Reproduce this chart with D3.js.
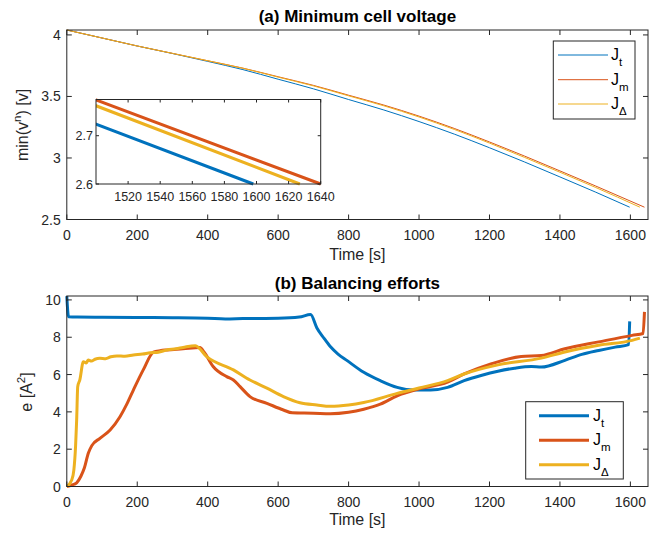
<!DOCTYPE html>
<html>
<head>
<meta charset="utf-8">
<script src="https://cdn.jsdelivr.net/npm/d3@7"></script>
<style>
  html, body { margin: 0; padding: 0; background: #fff; }
  svg { display: block; font-family: "Liberation Sans", Arial, Helvetica, sans-serif; }
</style>
</head>
<body>
<svg id="chart" width="662" height="540"></svg>
<script>
// ---- Data ---------------------------------------------------------------
// (a) minimum cell voltage [V] versus time [s], one array pair per controller
const vTimeT  = [0, 100, 200, 300, 400, 500, 600, 700, 800, 900, 1000, 1100, 1200, 1300, 1400, 1500, 1598];
const vJt     = [4.04, 3.975, 3.91, 3.849, 3.785, 3.718, 3.64, 3.562, 3.475, 3.39, 3.296, 3.194, 3.083, 2.967, 2.846, 2.724, 2.60];
const vTimeM  = [0, 100, 200, 300, 400, 500, 600, 700, 800, 900, 1000, 1100, 1200, 1300, 1400, 1500, 1640];
const vJm     = [4.04, 3.975, 3.91, 3.85, 3.79, 3.73, 3.66, 3.59, 3.51, 3.43, 3.34, 3.24, 3.13, 3.015, 2.895, 2.774, 2.60];
const vTimeD  = [0, 100, 200, 300, 400, 500, 600, 700, 800, 900, 1000, 1100, 1200, 1300, 1400, 1500, 1627];
const vJd     = [4.04, 3.975, 3.91, 3.85, 3.79, 3.729, 3.657, 3.586, 3.505, 3.424, 3.333, 3.232, 3.121, 3.004, 2.884, 2.762, 2.60];

// (b) balancing effort e [A^2] versus time [s]
const eTimeT = [0, 5, 30, 100, 200, 300, 400, 450, 500, 600, 660, 692, 710, 730, 748, 770, 795, 843, 890, 938, 985, 1033, 1081, 1128, 1176, 1224, 1271, 1319, 1347, 1414, 1462, 1510, 1557, 1595, 1598];
const eJt    = [10.2, 9.1, 9.08, 9.07, 9.06, 9.05, 9.02, 8.98, 9.0, 9.02, 9.08, 9.22, 8.5, 7.95, 7.5, 7.1, 6.76, 6.12, 5.67, 5.31, 5.17, 5.17, 5.31, 5.67, 5.95, 6.18, 6.34, 6.43, 6.40, 6.76, 7.08, 7.29, 7.47, 7.6, 8.85];
const eTimeM = [0, 14, 28, 40, 50, 61, 71, 94, 123, 151, 170, 189, 217, 246, 265, 284, 330, 378, 390, 416, 454, 473, 492, 520, 568, 615, 640, 700, 748, 800, 843, 890, 938, 1000, 1081, 1128, 1204, 1290, 1347, 1414, 1510, 1605, 1636, 1640];
const eJm    = [0, 0.08, 0.2, 0.55, 1.0, 1.78, 2.19, 2.58, 3.03, 3.74, 4.4, 5.17, 6.25, 7.2, 7.28, 7.32, 7.38, 7.45, 7.2, 6.42, 5.89, 5.71, 5.35, 4.82, 4.46, 4.10, 3.95, 3.93, 3.9, 3.98, 4.14, 4.41, 4.86, 5.23, 5.59, 6.03, 6.57, 6.97, 7.02, 7.38, 7.75, 8.10, 8.2, 9.36];
const eTimeD = [0, 14, 20, 25, 28, 31, 37, 47, 55, 61, 70, 80, 94, 110, 125, 142, 165, 189, 215, 237, 260, 284, 310, 330, 365, 397, 473, 520, 568, 615, 662, 710, 748, 800, 843, 938, 1000, 1081, 1128, 1224, 1347, 1414, 1510, 1605, 1627];
const eJd    = [0, 0.35, 0.88, 2.2, 3.57, 5.35, 5.71, 6.69, 6.62, 6.78, 6.72, 6.82, 6.87, 6.85, 6.95, 7.0, 6.98, 7.05, 7.1, 7.17, 7.2, 7.32, 7.38, 7.45, 7.55, 6.96, 6.25, 5.71, 5.27, 4.82, 4.49, 4.37, 4.3, 4.37, 4.50, 4.99, 5.28, 5.67, 6.03, 6.52, 6.88, 7.21, 7.57, 7.83, 7.95];

// Axis ticks
const timeTicks   = [0, 200, 400, 600, 800, 1000, 1200, 1400, 1600];
const voltTicks   = [2.5, 3, 3.5, 4];
const effortTicks = [0, 2, 4, 6, 8, 10];
const insetTimeTicks = [1520, 1540, 1560, 1580, 1600, 1620, 1640];
const insetVoltTicks = [2.6, 2.7];

const seriesNames  = ["t", "m", "\u0394"];
const seriesColors = ["#0072BD", "#D95319", "#EDB120"];

// ---- Layout -------------------------------------------------------------
const svg = d3.select("#chart");
const axisColor = "#262626";

const left = 66.8, right = 648;
const x = d3.scaleLinear().domain([0, 1650]).range([left, right]);
const yTop = d3.scaleLinear().domain([2.5, 4.04]).range([219.5, 30]);
const yBot = d3.scaleLinear().domain([0, 10.21]).range([486.5, 296]);

const xi = d3.scaleLinear().domain([1500, 1640]).range([96, 320.7]);
const yi = d3.scaleLinear().domain([2.6, 2.775]).range([184, 99.5]);

function lineOf(xs, ys, xScale, yScale) {
  const pts = xs.map((t, i) => [t, ys[i]]);
  return d3.line().curve(d3.curveMonotoneX)
    .x(d => xScale(d[0])).y(d => yScale(d[1]))(pts);
}

// Box with inward ticks on all four sides and labels on left/bottom
function frame(g, xs, ys, xTicks, yTicks, opts) {
  const [x0, x1] = xs.range();
  const [y0, y1] = ys.range(); // y0 bottom, y1 top
  const tl = opts.tickLen;
  const gAx = g.append("g").attr("stroke", axisColor).attr("stroke-width", 1).attr("fill", "none");
  gAx.append("rect").attr("x", x0).attr("y", y1).attr("width", x1 - x0).attr("height", y0 - y1);
  xTicks.forEach(t => {
    const px = xs(t);
    gAx.append("line").attr("x1", px).attr("x2", px).attr("y1", y0).attr("y2", y0 - tl);
    gAx.append("line").attr("x1", px).attr("x2", px).attr("y1", y1).attr("y2", y1 + tl);
  });
  yTicks.forEach(v => {
    const py = ys(v);
    gAx.append("line").attr("x1", x0).attr("x2", x0 + tl).attr("y1", py).attr("y2", py);
    gAx.append("line").attr("x1", x1).attr("x2", x1 - tl).attr("y1", py).attr("y2", py);
  });
  const gLab = g.append("g").attr("fill", axisColor).attr("font-size", opts.fontSize);
  xTicks.forEach(t => {
    gLab.append("text").attr("x", xs(t)).attr("y", y0 + opts.xLabDy)
      .attr("text-anchor", "middle").text(t);
  });
  yTicks.forEach(v => {
    gLab.append("text").attr("x", x0 - opts.yLabDx).attr("y", ys(v))
      .attr("dy", "0.36em").attr("text-anchor", "end").text(v);
  });
}

function legend(g, bx, by, bw, bh, rows, lx0, lx1, tx, lineW) {
  g.append("rect").attr("x", bx).attr("y", by).attr("width", bw).attr("height", bh)
    .attr("fill", "#fff").attr("stroke", axisColor).attr("stroke-width", 1);
  seriesNames.forEach((n, i) => {
    g.append("line").attr("x1", lx0).attr("x2", lx1).attr("y1", rows[i]).attr("y2", rows[i])
      .attr("stroke", seriesColors[i]).attr("stroke-width", lineW);
    const t = g.append("text").attr("x", tx).attr("y", rows[i] + 5)
      .attr("font-size", 16).attr("fill", "#000");
    t.append("tspan").text("J");
    t.append("tspan").attr("font-size", 11.5).attr("dy", 6).text(n);
  });
}

// ---- (a) Minimum cell voltage ------------------------------------------
const gA = svg.append("g");
const vSeries = [[vTimeT, vJt], [vTimeM, vJm], [vTimeD, vJd]];
vSeries.forEach((s, i) => {
  gA.append("path").attr("d", lineOf(s[0], s[1], x, yTop))
    .attr("fill", "none").attr("stroke", seriesColors[i]).attr("stroke-width", 1);
});
frame(gA, x, yTop, timeTicks, voltTicks, { tickLen: 5, fontSize: 14, xLabDy: 20, yLabDx: 6 });

gA.append("text").attr("x", (left + right) / 2).attr("y", 22)
  .attr("text-anchor", "middle").attr("font-weight", "bold").attr("font-size", 17)
  .attr("fill", "#000").text("(a) Minimum cell voltage");
gA.append("text").attr("x", (left + right) / 2).attr("y", 260)
  .attr("text-anchor", "middle").attr("font-size", 16).attr("fill", axisColor).text("Time [s]");
{
  const t = gA.append("text").attr("transform", "translate(28,125) rotate(-90)")
    .attr("text-anchor", "middle").attr("font-size", 16).attr("fill", axisColor);
  t.append("tspan").text("min(v");
  t.append("tspan").attr("font-size", 11.5).attr("dy", -7).text("n");
  t.append("tspan").attr("dy", 7).text(") [v]");
}

// Zoomed inset of the end of discharge
const gI = gA.append("g");
gI.append("rect").attr("x", xi.range()[0]).attr("y", yi.range()[1])
  .attr("width", xi.range()[1] - xi.range()[0]).attr("height", yi.range()[0] - yi.range()[1])
  .attr("fill", "#fff");
gI.append("clipPath").attr("id", "insetClip").append("rect")
  .attr("x", xi.range()[0]).attr("y", yi.range()[1] - 2)
  .attr("width", xi.range()[1] - xi.range()[0] + 2).attr("height", yi.range()[0] - yi.range()[1] + 4);
const gIL = gI.append("g").attr("clip-path", "url(#insetClip)");
vSeries.forEach((s, i) => {
  gIL.append("path").attr("d", lineOf(s[0], s[1], xi, yi))
    .attr("fill", "none").attr("stroke", seriesColors[i]).attr("stroke-width", 3);
});
frame(gI, xi, yi, insetTimeTicks, insetVoltTicks, { tickLen: 3, fontSize: 12.5, xLabDy: 17, yLabDx: 3 });

legend(gA, 553.3, 41, 81.7, 78, [55, 79.7, 104], 558, 608, 611, 1);

// ---- (b) Balancing efforts ---------------------------------------------
const gB = svg.append("g");
const eSeries = [[eTimeT, eJt], [eTimeM, eJm], [eTimeD, eJd]];
eSeries.forEach((s, i) => {
  gB.append("path").attr("d", lineOf(s[0], s[1], x, yBot))
    .attr("fill", "none").attr("stroke", seriesColors[i]).attr("stroke-width", 3)
    .attr("stroke-linejoin", "round");
});
frame(gB, x, yBot, timeTicks, effortTicks, { tickLen: 5, fontSize: 14, xLabDy: 20, yLabDx: 6 });

gB.append("text").attr("x", (left + right) / 2).attr("y", 289)
  .attr("text-anchor", "middle").attr("font-weight", "bold").attr("font-size", 17)
  .attr("fill", "#000").text("(b) Balancing efforts");
gB.append("text").attr("x", (left + right) / 2).attr("y", 525)
  .attr("text-anchor", "middle").attr("font-size", 16).attr("fill", axisColor).text("Time [s]");
{
  const t = gB.append("text").attr("transform", "translate(32,392) rotate(-90)")
    .attr("text-anchor", "middle").attr("font-size", 16).attr("fill", axisColor);
  t.append("tspan").text("e [A");
  t.append("tspan").attr("font-size", 11.5).attr("dy", -7).text("2");
  t.append("tspan").attr("dy", 7).text("]");
}

legend(gB, 525.7, 401.7, 97.6, 77.3, [415.7, 440.3, 464.7], 539, 589, 593, 3);
</script>
</body>
</html>
